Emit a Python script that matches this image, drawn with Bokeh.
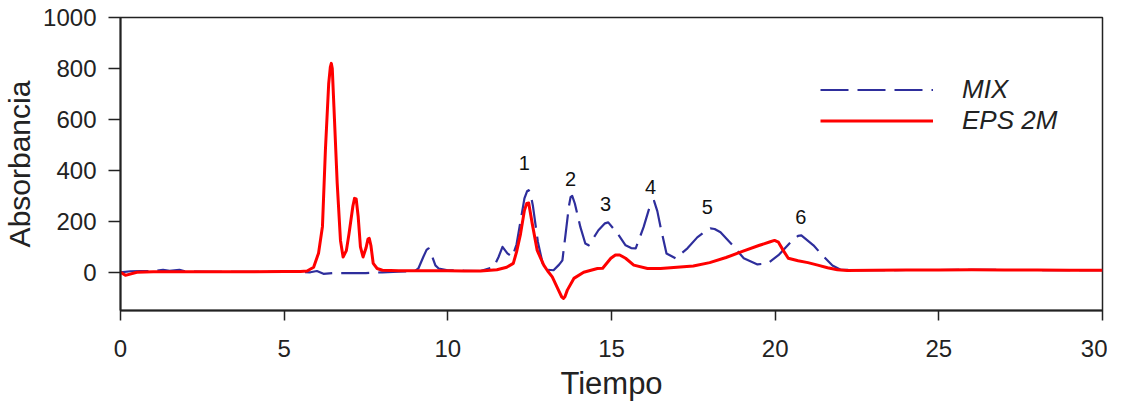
from bokeh.plotting import figure
from bokeh.models import Range1d, FixedTicker, Legend, LegendItem
from bokeh.core.properties import value
from bokeh.embed import file_html
from bokeh.resources import INLINE

# ---- data ----
eps_x = [0, 0.15, 0.5, 1, 2, 3, 4, 5, 5.5, 5.7, 5.9, 6.05, 6.17, 6.26, 6.36, 6.41, 6.44,
         6.47, 6.52, 6.62, 6.72, 6.8, 6.9, 6.98, 7.1, 7.15, 7.2, 7.26, 7.33, 7.41, 7.5, 7.56, 7.6,
         7.65, 7.72, 7.84, 8.0, 8.5, 9, 9.5, 10, 10.5, 11, 11.5, 11.8, 12.0, 12.1, 12.22,
         12.34, 12.41, 12.47, 12.58, 12.73, 12.93, 13.05, 13.19, 13.38, 13.48, 13.53, 13.58,
         13.65, 13.85, 14.15, 14.57, 14.73, 14.98, 15.12, 15.25, 15.43, 15.68, 16.1, 16.5,
         17.0, 17.5, 18.0, 18.5, 19.0, 19.5, 19.85, 19.98, 20.1, 20.25, 20.4, 20.7, 21.0,
         21.3, 21.6, 21.9, 22.2, 23, 24, 25, 26, 27, 28, 29, 30]
eps_y = [0, -12, 0, 2, 2, 2, 2, 3, 3, 5, 20, 75, 180, 480, 740, 805, 820,
         800, 650, 350, 125, 60, 85, 150, 260, 290, 288, 220, 100, 60, 95, 130, 133,
         105, 35, 15, 8, 6, 6, 6, 6, 5, 5, 10, 20, 35, 80, 150,
         243, 270, 272, 190, 86, 28, 5, -18, -70, -97, -103, -95,
         -70, -24, 0, 15, 16, 55, 68, 68, 55, 28, 15, 15,
         20, 25, 38, 58, 82, 105, 120, 125, 118, 85, 55, 45, 38,
         28, 18, 10, 7, 8, 9, 9, 10, 9, 9, 8, 8]

mix_x = [0, 0.3, 0.6, 1.0, 1.3, 1.5, 1.8, 2.0, 3, 4, 5, 5.8, 6.0, 6.2, 6.5, 7, 7.5, 8,
         8.5, 9.0, 9.1, 9.25, 9.35, 9.41, 9.5, 9.62, 9.72, 10, 10.5, 11, 11.4, 11.55, 11.67,
         11.82, 11.97, 12.1, 12.22, 12.34, 12.42, 12.47, 12.52, 12.6, 12.75, 12.93, 13.05,
         13.23, 13.4, 13.5, 13.6, 13.7, 13.75, 13.8, 13.88, 14.05, 14.2, 14.3, 14.45, 14.6,
         14.8, 14.9, 15.18, 15.43, 15.6, 15.74, 15.98, 16.15, 16.25, 16.3, 16.4, 16.5, 16.68,
         16.96, 17.32, 17.62, 17.85, 18.02, 18.15, 18.33, 18.7, 19.04, 19.46, 19.77, 20.1,
         20.47, 20.7, 20.8, 21.17, 21.39, 21.75, 22.0, 22.5, 23, 24, 25, 26, 27, 28, 29, 30]
mix_y = [0, 4, 5, 4, 10, 6, 10, 3, 2, 2, 2, 0, 5, -6, -3, -3, -3, 0,
         2, 5, 15, 60, 88, 94, 70, 27, 15, 8, 6, 5, 20, 60, 100,
         74, 60, 110, 200, 290, 318, 322, 312, 260, 120, 15, 10,
         8, 30, 47, 153, 260, 295, 300, 270, 177, 113, 106, 135, 165,
         192, 196, 153, 106, 95, 94, 177, 250, 278, 280, 240, 177, 74,
         55, 94, 137, 160, 172, 170, 157, 106, 55, 31, 35, 67,
         118, 143, 145, 106, 74, 27, 10, 8, 8, 9, 9, 10, 9, 9, 8, 8]

peak_labels = ["1", "2", "3", "4", "5", "6"]
peak_label_x = [12.34, 13.75, 14.82, 16.19, 17.93, 20.78]
peak_label_y = [427, 365, 267, 333, 255, 216]

x_ticks = [0, 5, 10, 15, 20, 25, 30]
y_ticks = [0, 200, 400, 600, 800, 1000]

FONT = "Liberation Sans"

p = figure(frame_width=982, frame_height=293, x_range=Range1d(0, 30), y_range=Range1d(-150, 1000),
           output_backend="svg", toolbar_location=None,
           min_border_left=112, min_border_right=5, min_border_top=17, min_border_bottom=80)

p.xgrid.visible = False
p.ygrid.visible = False
p.outline_line_color = "#222222"
p.outline_line_width = 1.5
p.background_fill_color = "white"
p.border_fill_color = "white"

mix = p.line(mix_x, mix_y, line_color="#2e2e9c", line_width=2.2, line_dash="28 9",
             line_join="round")
eps = p.line(eps_x, eps_y, line_color="#ff0000", line_width=3, line_join="round")

p.text(x=peak_label_x, y=peak_label_y, text=peak_labels, text_font=value(FONT),
       text_font_size="20px", text_align="center", text_baseline="middle",
       text_color="#111111")

for ax in (p.xaxis[0], p.yaxis[0]):
    ax.axis_line_color = "#222222"
    ax.axis_line_width = 2
    ax.major_tick_line_color = "#222222"
    ax.major_tick_line_width = 1.5
    ax.major_tick_in = 0
    ax.minor_tick_line_color = None
    ax.major_label_text_font = FONT
    ax.major_label_text_font_size = "24px"
    ax.major_label_text_color = "#222222"
    ax.axis_label_text_font = FONT
    ax.axis_label_text_font_style = "normal"
    ax.axis_label_text_color = "#222222"

p.xaxis[0].axis_label_text_font_size = "31px"
p.yaxis[0].axis_label_text_font_size = "30px"
p.xaxis[0].ticker = FixedTicker(ticks=x_ticks)
p.yaxis[0].ticker = FixedTicker(ticks=y_ticks)
p.xaxis[0].major_tick_out = 10
p.yaxis[0].major_tick_out = 12
p.xaxis[0].major_label_standoff = 19
p.yaxis[0].major_label_standoff = 12
p.xaxis[0].axis_label = "Tiempo"
p.yaxis[0].axis_label = "Absorbancia"
p.xaxis[0].axis_label_standoff = 6
p.yaxis[0].axis_label_standoff = 4

legend = Legend(items=[LegendItem(label="MIX", renderers=[mix]),
                       LegendItem(label="EPS 2M", renderers=[eps])],
                location=(700, 174), orientation="vertical",
                glyph_width=113, glyph_height=31, label_height=31, spacing=0,
                label_standoff=29, padding=0, margin=0,
                border_line_color=None, background_fill_alpha=0,
                label_text_font=FONT, label_text_font_size="26px",
                label_text_font_style="italic", label_text_color="#222222")
p.add_layout(legend)

open("out.html", "w").write(file_html(p, INLINE))
